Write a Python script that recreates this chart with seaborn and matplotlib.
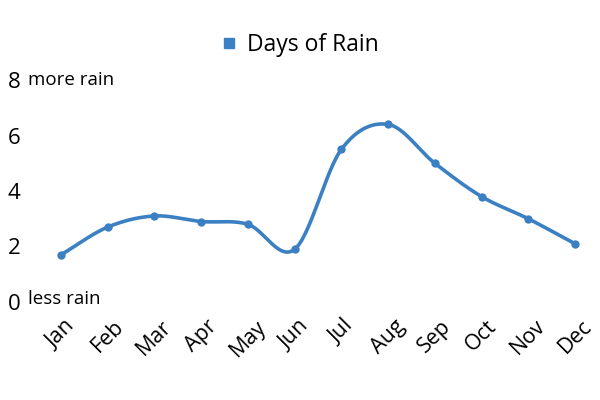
"""Days of rain per month, smoothed line chart."""
import matplotlib
matplotlib.use("Agg")
import matplotlib.pyplot as plt
import numpy as np
import pandas as pd
import seaborn as sns

months = ["Jan", "Feb", "Mar", "Apr", "May", "Jun",
          "Jul", "Aug", "Sep", "Oct", "Nov", "Dec"]
rain_days = [1.7, 2.7, 3.1, 2.9, 2.8, 1.9, 5.5, 6.4, 5.0, 3.8, 3.0, 2.1]
y_ticks = [0, 2, 4, 6, 8]
series_name = "Days of Rain"

LINE_COLOR = "#3b80c2"

sns.set_theme(style="white", rc={"text.color": "black", "xtick.color": "black",
                                 "ytick.color": "black"})
plt.rcParams["font.family"] = ["Open Sans", "DejaVu Sans"]


def catmull_rom(x, y, steps=30):
    """Smooth curve through the points (drawing only)."""
    x = np.asarray(x, float)
    y = np.asarray(y, float)
    px = np.concatenate([[2 * x[0] - x[1]], x, [2 * x[-1] - x[-2]]])
    py = np.concatenate([[2 * y[0] - y[1]], y, [2 * y[-1] - y[-2]]])
    xs, ys = [], []
    t = np.linspace(0, 1, steps, endpoint=False)
    for i in range(1, len(px) - 2):
        for p, out in ((px, xs), (py, ys)):
            p0, p1, p2, p3 = p[i - 1], p[i], p[i + 1], p[i + 2]
            out.extend(0.5 * ((2 * p1) + (-p0 + p2) * t
                              + (2 * p0 - 5 * p1 + 4 * p2 - p3) * t ** 2
                              + (-p0 + 3 * p1 - 3 * p2 + p3) * t ** 3))
    xs.append(x[-1])
    ys.append(y[-1])
    return np.array(xs), np.array(ys)


df = pd.DataFrame({"idx": np.arange(len(months)), "days": rain_days})
sx, sy = catmull_rom(df["idx"], df["days"])
smooth = pd.DataFrame({"idx": sx, "days": sy})

fig = plt.figure(figsize=(6, 4), dpi=100)
ax = fig.add_axes([61 / 600, 1 - 302 / 400, (575 - 61) / 600, (302 - 80) / 400])

sns.lineplot(data=smooth, x="idx", y="days", ax=ax, color=LINE_COLOR,
             linewidth=2.6, sort=False, clip_on=False)
sns.scatterplot(data=df, x="idx", y="days", ax=ax, color=LINE_COLOR,
                s=36, edgecolor=LINE_COLOR, linewidth=0, zorder=3, clip_on=False)

ax.set_xlim(0, len(months) - 1)
ax.set_ylim(0, 8)
ax.set_xticks(df["idx"])
ax.set_xticklabels(months, rotation=45, ha="center", fontsize=15.5)
ax.set_yticks(y_ticks)
ax.set_yticklabels([str(v) for v in y_ticks], fontsize=16, ha="center")
ax.tick_params(axis="y", length=0, pad=34)
ax.tick_params(axis="x", length=0, pad=10)
ax.set_xlabel("")
ax.set_ylabel("")
for s in ax.spines.values():
    s.set_visible(False)
ax.grid(False)

fig.text(28 / 600, 1 - 80 / 400, "more rain", fontsize=13.5, va="center", ha="left")
fig.text(28 / 600, 1 - 299 / 400, "less rain", fontsize=13.5, va="center", ha="left")

handle = plt.Line2D([], [], marker="s", linestyle="", color=LINE_COLOR, markersize=7)
fig.legend([handle], [series_name], loc="center", bbox_to_anchor=(0.497, 1 - 45 / 400),
           frameon=False, fontsize=16.5, handletextpad=0.3, handlelength=1.0)

fig.savefig("out.png", dpi=100)
plt.close(fig)
